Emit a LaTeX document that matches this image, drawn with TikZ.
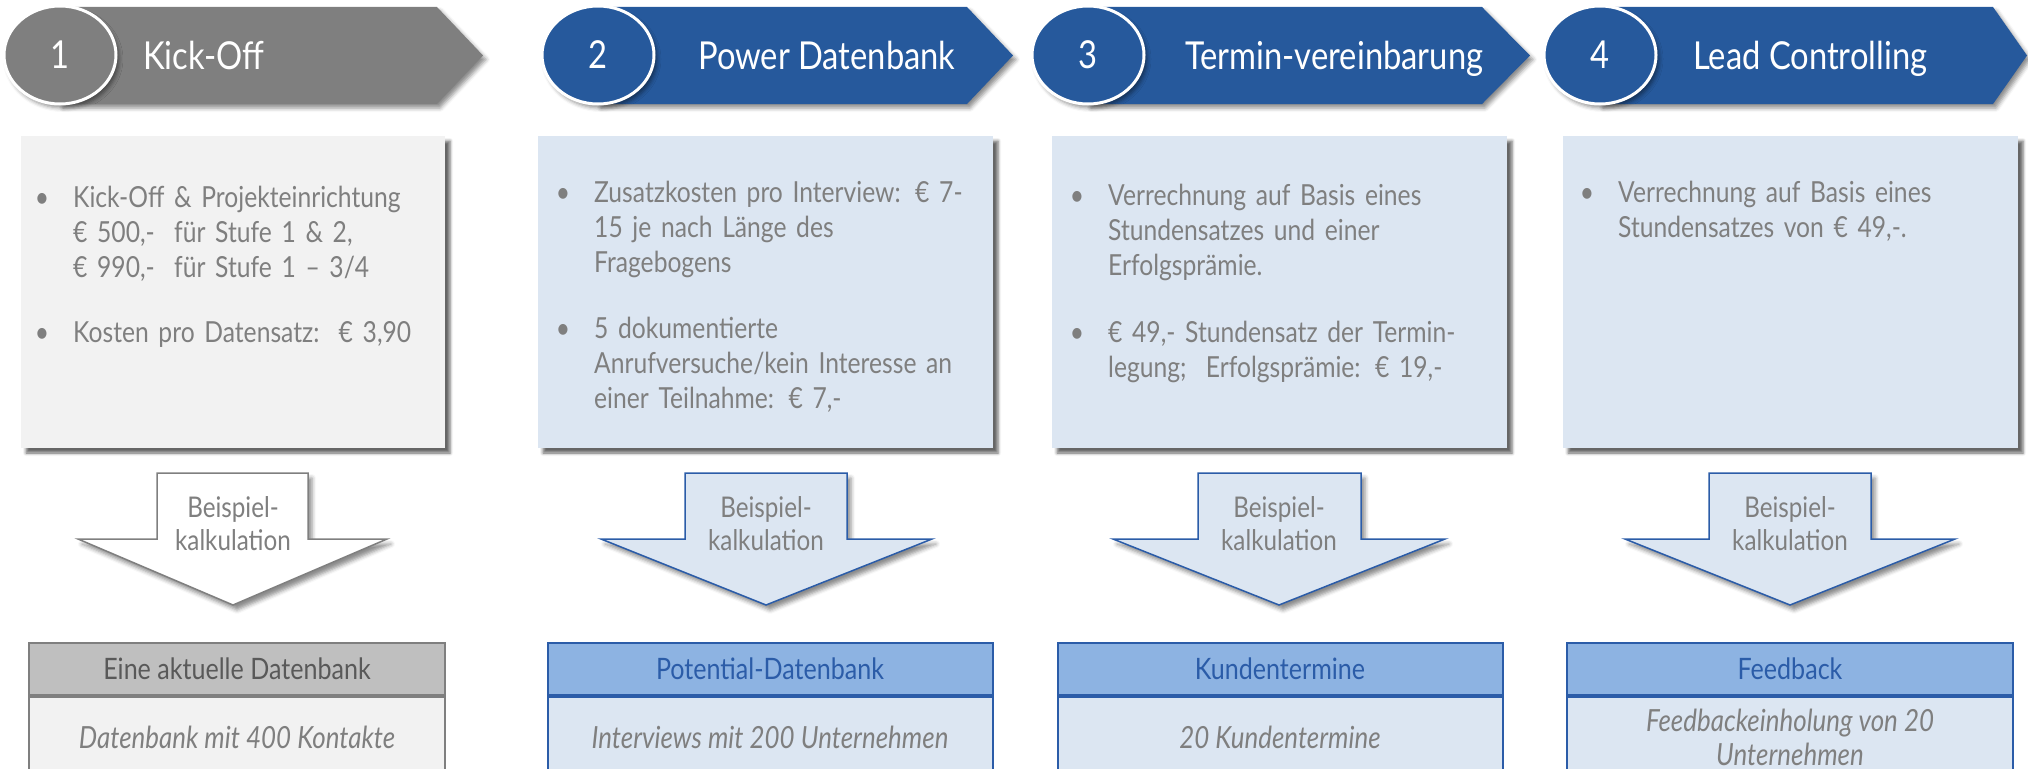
\documentclass[tikz,border=0pt]{standalone}
\usepackage{fontspec}
\setmainfont{Lato}[FakeStretch=0.85]
\usetikzlibrary{shapes.geometric, positioning, shadows.blur}
\definecolor{hgray}{RGB}{127,127,127}
\definecolor{hblue}{RGB}{38,89,156}
\definecolor{txtgray}{RGB}{127,127,127}
\definecolor{boxgray}{RGB}{242,242,242}
\definecolor{boxblue}{RGB}{220,230,242}
\definecolor{tabgray}{RGB}{191,191,191}
\definecolor{tabblue}{RGB}{141,179,226}
\definecolor{linegray}{RGB}{127,127,127}
\definecolor{lineblue}{RGB}{43,92,168}
\definecolor{kopfgray}{RGB}{89,89,89}
\newcommand{\aufz}{\leavevmode\llap{\textbullet\hspace{24pt}}}
\tikzset{%
	band/.style = { blur shadow={shadow xshift=3pt, shadow yshift=-4pt, shadow blur radius=4pt, shadow opacity=45} },
	nummer/.style = { ellipse, draw=white, line width=3pt, minimum width=112pt, minimum height=98pt, inner sep=0pt, text=white, font=\fontsize{38.5}{38.5}\selectfont, band },
	titel/.style = { anchor=base west, text=white, inner sep=0pt, font=\fontsize{38.5}{38.5}\selectfont },
	kasten/.style = { blur shadow={shadow xshift=5pt, shadow yshift=-5pt, shadow blur radius=3pt, shadow opacity=60} },
	punkt/.style = { anchor=base west, inner sep=0pt, text=txtgray, align=left, text width=410pt, font=\fontsize{29}{35}\selectfont },
	pfeil/.style = { line width=1.5pt, blur shadow={shadow xshift=4pt, shadow yshift=-5pt, shadow blur radius=4pt, shadow opacity=45} },
	pfeiltext/.style = { anchor=base, inner sep=0pt, text=txtgray, align=center, text width=160pt, font=\fontsize{28.5}{33}\selectfont },
	kopf/.style = { draw, line width=2pt, inner sep=0pt, minimum height=52pt, font=\fontsize{29.5}{29.5}\selectfont },
	rumpf/.style = { draw, line width=2pt, inner sep=0pt, minimum height=80pt, text=txtgray, align=center, font=\itshape\fontsize{30.5}{34}\selectfont }
}
\begin{document}
\begin{tikzpicture}[x=1pt, y=-1pt]
	\useasboundingbox (0,0) rectangle (2028,768);
	% Kopfzeile: Pfeile
	\fill[hgray, band] (60,7) -- (437,7) -- (483,55.5) -- (437,104) -- (60,104) -- cycle;
	\fill[hblue, band] (598,7) -- (967,7) -- (1013,55.5) -- (967,104) -- (598,104) -- cycle;
	\fill[hblue, band] (1088,7) -- (1482,7) -- (1530,55.5) -- (1482,104) -- (1088,104) -- cycle;
	\fill[hblue, band] (1600,7) -- (1993,7) -- (2027,55.5) -- (1993,104) -- (1600,104) -- cycle;
	% Kopfzeile: Nummern und Titel
	\node[nummer, fill=hgray] (n1) at (60,55) {1};
	\node[nummer, fill=hblue] (n2) at (598,55) {2};
	\node[nummer, fill=hblue] (n3) at (1088,55) {3};
	\node[nummer, fill=hblue] (n4) at (1600,55) {4};
	\node[titel] (t1) at (143,70) {Kick-Off};
	\node[titel] (t2) at (698,70) {Power Datenbank};
	\node[titel] (t3) at (1185,70) {Termin-vereinbarung};
	\node[titel] (t4) at (1693,70) {Lead Controlling};
	% Kaesten mit Kosten
	\fill[boxgray, kasten] (21,136) rectangle (445,448);
	\fill[boxblue, kasten] (538,136) rectangle (993,448);
	\fill[boxblue, kasten] (1052,136) rectangle (1507,448);
	\fill[boxblue, kasten] (1563,136) rectangle (2018,448);
	\node[punkt] (p11) at (73,207) {\aufz Kick-Off \& Projekteinrichtung\\€ 500,-~~für Stufe 1 \& 2,\\€ 990,-~~für Stufe 1 – 3/4};
	\node[punkt] (p12) at (73,342) {\aufz Kosten pro Datensatz:~~€ 3,90};
	\node[punkt] (p21) at (594,202) {\aufz Zusatzkosten pro Interview: € 7-\\15 je nach Länge des\\Fragebogens};
	\node[punkt] (p22) at (594,338) {\aufz 5 dokumentierte\\Anrufversuche/kein Interesse an\\einer Teilnahme: € 7,-};
	\node[punkt] (p31) at (1108,205) {\aufz Verrechnung auf Basis eines\\Stundensatzes und einer\\Erfolgsprämie.};
	\node[punkt] (p32) at (1108,342) {\aufz € 49,- Stundensatz der Termin-\\legung;~~Erfolgsprämie: € 19,-};
	\node[punkt] (p41) at (1618,202) {\aufz \makebox[380pt][s]{Verrechnung auf Basis eines}\\Stundensatzes von € 49,-.};
	% Blockpfeile
	\filldraw[pfeil, fill=white, draw=linegray] (157,473) -- (308,473) -- (308,539) -- (387,539) -- (233,605) -- (78,539) -- (157,539) -- cycle;
	\filldraw[pfeil, fill=boxblue, draw=lineblue] (685,473) -- (847,473) -- (847,539) -- (932,539) -- (766,605) -- (601,539) -- (685,539) -- cycle;
	\filldraw[pfeil, fill=boxblue, draw=lineblue] (1198,473) -- (1361,473) -- (1361,539) -- (1445,539) -- (1279,605) -- (1113,539) -- (1198,539) -- cycle;
	\filldraw[pfeil, fill=boxblue, draw=lineblue] (1709,473) -- (1871,473) -- (1871,539) -- (1955,539) -- (1790,605) -- (1625,539) -- (1709,539) -- cycle;
	\node[pfeiltext] (b1) at (233,517) {Beispiel-\\kalkulation};
	\node[pfeiltext] (b2) at (766,517) {Beispiel-\\kalkulation};
	\node[pfeiltext] (b3) at (1279,517) {Beispiel-\\kalkulation};
	\node[pfeiltext] (b4) at (1790,517) {Beispiel-\\kalkulation};
	% Ergebnis-Tabellen
	\node[kopf, fill=tabgray, draw=linegray, text=kopfgray, minimum width=416pt] (k1) at (237,669) {Eine aktuelle Datenbank};
	\node[kopf, fill=tabblue, draw=lineblue, text=lineblue, minimum width=445pt] (k2) at (770,669) {Potential-Datenbank};
	\node[kopf, fill=tabblue, draw=lineblue, text=lineblue, minimum width=445pt] (k3) at (1280,669) {Kundentermine};
	\node[kopf, fill=tabblue, draw=lineblue, text=lineblue, minimum width=446pt] (k4) at (1790,669) {Feedback};
	\node[rumpf, fill=boxgray, draw=linegray, minimum width=416pt, below=0pt of k1] (r1) {Datenbank mit 400 Kontakte};
	\node[rumpf, fill=boxblue, draw=lineblue, minimum width=445pt, below=0pt of k2] (r2) {Interviews mit 200 Unternehmen};
	\node[rumpf, fill=boxblue, draw=lineblue, minimum width=445pt, below=0pt of k3] (r3) {20 Kundentermine};
	\node[rumpf, fill=boxblue, draw=lineblue, minimum width=446pt, below=0pt of k4] (r4) {Feedbackeinholung von 20\\Unternehmen};
\end{tikzpicture}
\end{document}
